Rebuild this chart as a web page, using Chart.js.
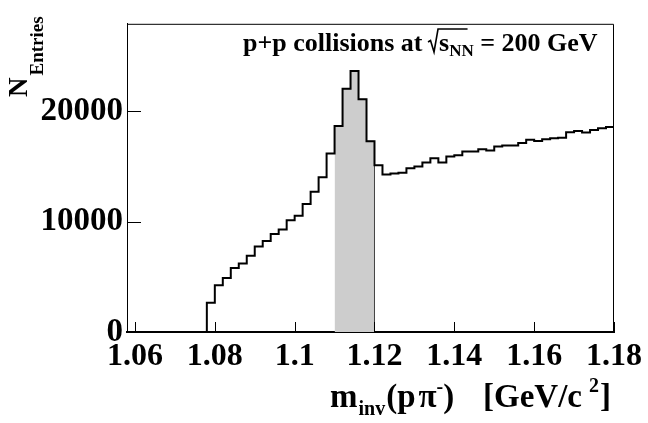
<!DOCTYPE html>
<html><head><meta charset="utf-8">
<script src="https://cdn.jsdelivr.net/npm/chart.js@4.4.0/dist/chart.umd.min.js"></script>
<style>html,body{margin:0;padding:0;background:#fff}#wrap{width:648px;height:423px}</style>
</head><body><div id="wrap"><canvas id="c" width="648" height="423"></canvas></div>
<script>
// ---- data ----
const binLow = 1.058;
const binWidth = 0.002;
const counts = [
  0, 0, 0, 0, 0, 0, 0, 0, 0, 0,
  2650, 4230, 4880, 5790, 6200, 6910, 7730, 8240, 8880, 9290,
  10120, 10530, 11590, 12700, 14000, 16170,
  18640, 22030, 23620, 21060, 17260,
  15100, 14250, 14350, 14410, 14820, 14990, 15350, 15740, 15350, 15880,
  15990, 16350, 16350, 16550, 16420, 16790, 16880, 16880, 17110, 17410,
  17290, 17450, 17550, 17590, 18080, 18200, 18050, 18290, 18450, 18560
];
const peakLow = 1.11;
const peakHigh = 1.12;
const xTicks = [1.06, 1.08, 1.10, 1.12, 1.14, 1.16, 1.18];
const xTickLabels = ["1.06", "1.08", "1.1", "1.12", "1.14", "1.16", "1.18"];
const yTicks = [0, 10000, 20000];
const yTickLabels = ["0", "10000", "20000"];
const xMin = 1.058, xMax = 1.18, yMax = 27900;

// ---- build step points (left edge of each bin) ----
const histPts = counts.map((c, i) => ({x: binLow + i * binWidth, y: c}));
histPts.push({x: binLow + counts.length * binWidth, y: 0});
const peakPts = [];
counts.forEach((c, i) => {
  const e = binLow + i * binWidth;
  if (e > peakLow - 1e-6 && e < peakHigh - 1e-6) peakPts.push({x: e, y: c});
});
peakPts.push({x: peakHigh, y: 0});

const SERIF = "'Liberation Serif', 'Times New Roman', serif";

const decor = {
  id: 'decor',
  afterDraw(chart) {
    const {ctx, chartArea: a, scales: {x, y}} = chart;
    ctx.save();
    // frame
    ctx.strokeStyle = '#000';
    ctx.lineWidth = 1;
    ctx.beginPath();
    ctx.moveTo(a.left + 0.5, a.bottom); ctx.lineTo(a.left + 0.5, a.top + 0.5);
    ctx.lineTo(a.right - 0.5, a.top + 0.5); ctx.lineTo(a.right - 0.5, a.bottom);
    ctx.stroke();
    // inward ticks
    xTicks.forEach(v => {
      const px = Math.round(x.getPixelForValue(v)) + 0.5;
      ctx.beginPath(); ctx.moveTo(px, a.bottom); ctx.lineTo(px, a.bottom - 10); ctx.stroke();
    });
    yTicks.forEach(v => {
      const py = Math.round(y.getPixelForValue(v)) + 0.5;
      ctx.beginPath(); ctx.moveTo(a.left, py); ctx.lineTo(a.left + 14, py); ctx.stroke();
    });

    ctx.fillStyle = '#000';
    ctx.textBaseline = 'alphabetic';
    ctx.textAlign = 'left';
    // ---- top label: p+p collisions at sqrt(s_NN) = 200 GeV ----
    let tx = 243, by = 51;
    const big = 'bold 26px ' + SERIF, sub = 'bold 17px ' + SERIF;
    ctx.font = big;
    const t1 = 'p+p collisions at ';
    ctx.fillText(t1, tx, by); tx += ctx.measureText(t1).width;
    // radical
    const r0 = tx - 1;
    ctx.font = big; const ws = ctx.measureText('s').width;
    ctx.font = sub; const wnn = ctx.measureText('NN').width;
    ctx.lineWidth = 1.6;
    ctx.beginPath();
    ctx.moveTo(r0, by - 9); ctx.lineTo(r0 + 2.5, by - 10.5);
    ctx.lineTo(r0 + 6, by + 1); ctx.lineTo(r0 + 10, by - 22);
    ctx.lineTo(r0 + 11 + ws + wnn * 0.75, by - 22);
    ctx.stroke();
    tx = r0 + 11;
    ctx.font = big; ctx.fillText('s', tx, by); tx += ws;
    ctx.font = sub; ctx.fillText('NN', tx, by + 5); tx += wnn;
    ctx.font = big; ctx.fillText(' = 200 GeV', tx, by);

    // ---- x axis title ----
    const xb = 407;
    const xf = 'bold 33px ' + SERIF, xs = 'bold 20px ' + SERIF;
    let cx = 330;
    const put = (txt, f, dy, gap) => { ctx.font = f; ctx.fillText(txt, cx, xb + dy); cx += ctx.measureText(txt).width + (gap || 0); };
    put('m', xf, 0, 1);
    put('inv', xs, 8, 1);
    put('(', xf, 0, 0);
    put('p', xf, 0, 3);
    put('\u03C0', xf, 0, 0);
    put('-', xs, -14, 0);
    put(')', xf, 0, 0);
    cx = 483;
    put('[GeV/c', xf, 0, 7);
    put('2', xs, -15, 1);
    put(']', xf, 0, 0);

    // ---- y axis title ----
    ctx.save();
    ctx.translate(27, 97);
    ctx.rotate(-Math.PI / 2);
    ctx.font = 'bold 27px ' + SERIF;
    ctx.fillText('N', 0, 0);
    const wN = ctx.measureText('N').width;
    ctx.font = 'bold 19px ' + SERIF;
    ctx.fillText('Entries', wN + 2, 16);
    ctx.restore();

    ctx.restore();
  }
};

new Chart(document.getElementById('c'), {
  type: 'line',
  data: {
    datasets: [
      {
        data: histPts, stepped: 'before', borderColor: '#000', borderWidth: 2,
        pointRadius: 0, fill: false, order: 0
      },
      {
        data: peakPts, stepped: 'before', borderColor: '#444', borderWidth: 1,
        backgroundColor: '#cdcdcd', pointRadius: 0, fill: 'origin', order: 1
      }
    ]
  },
  options: {
    responsive: false, animation: false,
    plugins: {legend: {display: false}, tooltip: {enabled: false}},
    layout: {padding: {left: 0, right: 31, top: 15, bottom: 0}},
    scales: {
      x: {
        type: 'linear', min: xMin, max: xMax,
        afterBuildTicks: s => { s.ticks = xTicks.map(v => ({value: v})); },
        afterFit: s => { s.height = 91; },
        ticks: {
          callback: (v, i) => xTickLabels[i],
          font: {family: SERIF, weight: 'bold', size: 32}, color: '#000',
          padding: 6, maxRotation: 0, autoSkip: false
        },
        grid: {display: false, drawTicks: false},
        border: {display: true, color: '#000', width: 2}
      },
      y: {
        type: 'linear', min: 0, max: yMax,
        afterBuildTicks: s => { s.ticks = yTicks.map(v => ({value: v})); },
        afterFit: s => { s.width = 127; },
        ticks: {
          callback: (v, i) => yTickLabels[i],
          font: {family: SERIF, weight: 'bold', size: 33}, color: '#000',
          padding: 4
        },
        grid: {display: false, drawTicks: false},
        border: {display: true, color: '#000', width: 1}
      }
    }
  },
  plugins: [decor]
});
</script>
</body></html>
